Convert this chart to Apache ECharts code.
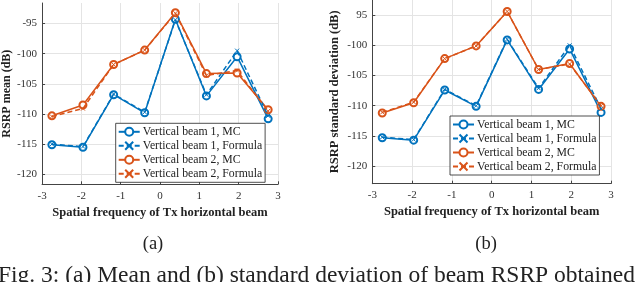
<!DOCTYPE html>
<html><head><meta charset="utf-8">
<script src="https://cdn.jsdelivr.net/npm/echarts@6/dist/echarts.min.js"></script>
<style>html,body{margin:0;padding:0;background:#fff}#c{width:640px;height:282px}</style>
</head><body><div id="c"></div><script>
const freqs = [-2.75, -1.96, -1.18, -0.39, 0.39, 1.18, 1.96, 2.75];
const meanV1MC = [-115.1, -115.5, -106.8, -109.8, -94.3, -107.0, -100.5, -110.8];
const meanV1F  = [-115.0, -115.4, -106.7, -109.7, -94.4, -106.8, -99.5, -110.3];
const meanV2MC = [-110.3, -108.5, -101.8, -99.4, -93.2, -103.3, -103.2, -109.3];
const meanV2F  = [-110.4, -109.1, -101.8, -99.4, -93.3, -103.6, -102.8, -109.5];
const stdV1MC = [-115.3, -115.7, -107.4, -110.1, -99.1, -107.3, -100.6, -111.1];
const stdV1F  = [-115.2, -115.6, -107.3, -110.0, -99.0, -107.1, -100.0, -110.5];
const stdV2MC = [-111.2, -109.5, -102.2, -100.1, -94.4, -104.0, -103.0, -110.1];
const stdV2F  = [-111.1, -109.4, -102.2, -100.1, -94.4, -104.0, -103.1, -110.0];
const yTicks = [-120, -115, -110, -105, -100, -95];
const names = ['Vertical beam 1, MC', 'Vertical beam 1, Formula', 'Vertical beam 2, MC', 'Vertical beam 2, Formula'];
const BLUE = '#0072BD', ORANGE = '#D95319';
const SERIF = 'Liberation Serif';
const XSYM = 'path://M0,0L10,10M10,0L0,10';

function pairs(ys){ return freqs.map((x,i)=>[x, ys[i]]); }

function mkSeries(idx, ys, name, color, formula){
  return {
    type: 'line', name: name, xAxisIndex: idx, yAxisIndex: idx,
    data: pairs(ys),
    symbol: formula ? XSYM : 'emptyCircle',
    symbolSize: formula ? 4 : 7,
    showAllSymbol: true,
    lineStyle: { color: color, width: 1.5, type: formula ? [5, 3] : 'solid' },
    itemStyle: formula ? { color: 'none', borderColor: color, borderWidth: 1 } : { color: color, borderColor: color, borderWidth: 1.2 },
    emphasis: { disabled: true },
    animation: false, z: formula ? 3 : 2
  };
}

function xAxis(idx){
  return {
    type: 'value', gridIndex: idx, min: -3, max: 3, interval: 1,
    name: 'Spatial frequency of Tx horizontal beam', nameLocation: 'middle', nameGap: 20,
    nameTextStyle: { fontFamily: SERIF, fontWeight: 'bold', fontSize: 12.5, color: '#222' },
    axisLine: { onZero: false, lineStyle: { color: '#444', width: 1 } },
    axisTick: { inside: true, length: 3, lineStyle: { color: '#444' } },
    axisLabel: { fontFamily: SERIF, fontSize: 11, color: '#333', margin: 6 },
    splitLine: { show: true, lineStyle: { color: '#e4e4e4', width: 1 } }
  };
}
function yAxis(idx, min, max, name, gap, nameSize, fmt){
  return {
    type: 'value', gridIndex: idx, min: min, max: max,
    name: name, nameLocation: 'middle', nameGap: gap, nameRotate: 90,
    nameTextStyle: { fontFamily: SERIF, fontWeight: 'bold', fontSize: nameSize, color: '#222' },
    axisLine: { show: true, onZero: false, lineStyle: { color: '#444', width: 1 } },
    axisTick: { show: true, inside: true, length: 3, customValues: yTicks, lineStyle: { color: '#444' } },
    axisLabel: { fontFamily: SERIF, fontSize: 11, color: '#333', margin: 5, customValues: yTicks, formatter: fmt },
    splitLine: { show: true, lineStyle: { color: '#e4e4e4', width: 1 } }
  };
}
function legend(left, top){
  return {
    data: names, orient: 'vertical', left: left, top: top,
    backgroundColor: '#fff', borderColor: '#222', borderWidth: 0.8,
    padding: [1.5, 3, 1.5, 2], itemGap: 0, itemWidth: 21, itemHeight: 10,
    textStyle: { fontFamily: SERIF, fontSize: 11.75, color: '#222', lineHeight: 14, padding: [0,0,0,-2] },
    selectedMode: false
  };
}

const chart = echarts.init(document.getElementById('c'), null, { renderer: 'canvas' });
chart.setOption({
  animation: false,
  backgroundColor: '#fff',
  grid: [
    { left: 40, top: 3, width: 238, height: 181.3 },
    { left: 372.3, top: 0, width: 238.7, height: 183.7 }
  ],
  xAxis: [xAxis(0), xAxis(1)],
  yAxis: [
    yAxis(0, -121.65, -91.6, 'RSRP mean (dB)', 27.5, 12, v => String(v)),
    yAxis(1, -122.9, -92.5, 'RSRP standard deviation (dB)', 31, 12.5, v => v === -95 ? '95' : String(v))
  ],
  legend: [legend(115.7, 123.3), legend(450, 116)],
  series: [
    mkSeries(0, meanV1MC, names[0], BLUE, false),
    mkSeries(0, meanV1F, names[1], BLUE, true),
    mkSeries(0, meanV2MC, names[2], ORANGE, false),
    mkSeries(0, meanV2F, names[3], ORANGE, true),
    mkSeries(1, stdV1MC, names[0], BLUE, false),
    mkSeries(1, stdV1F, names[1], BLUE, true),
    mkSeries(1, stdV2MC, names[2], ORANGE, false),
    mkSeries(1, stdV2F, names[3], ORANGE, true)
  ],
  graphic: [
    { type: 'text', x: 153, y: 244, style: { text: '(a)', fontFamily: SERIF, fontSize: 18.5, fill: '#222', align: 'center', verticalAlign: 'middle' } },
    { type: 'text', x: 486, y: 244, style: { text: '(b)', fontFamily: SERIF, fontSize: 18.5, fill: '#222', align: 'center', verticalAlign: 'middle' } },
    { type: 'text', x: -2, y: 276, style: { text: 'Fig. 3: (a) Mean and (b) standard deviation of beam RSRP obtained', fontFamily: SERIF, fontSize: 23.5, fill: '#222', align: 'left', verticalAlign: 'middle' } }
  ]
});
</script></body></html>
